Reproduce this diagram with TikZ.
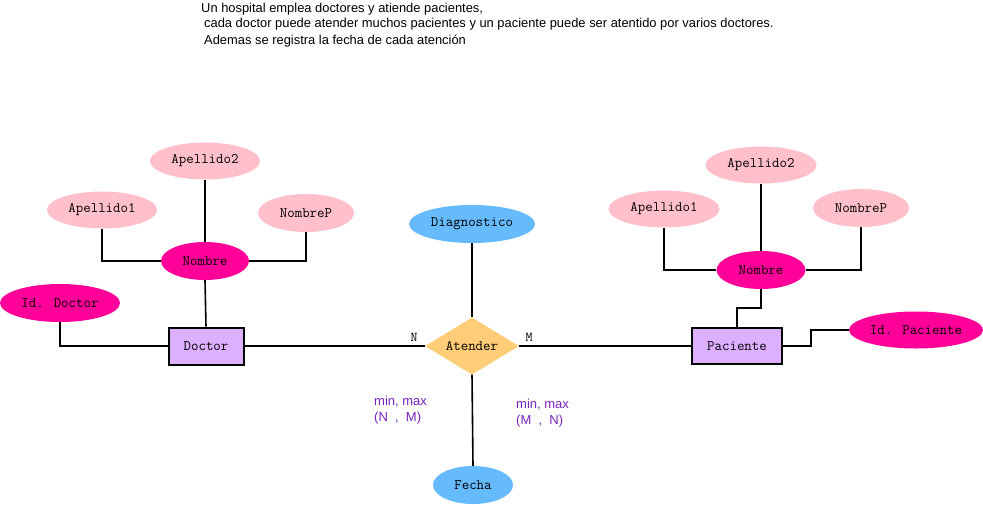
\documentclass[tikz,border=0pt]{standalone}
\usepackage{fontspec}
\setmainfont{Liberation Sans}
\usetikzlibrary{shapes.geometric}
\definecolor{lpink}{HTML}{FFC0CB}
\definecolor{dpink}{HTML}{FF0099}
\definecolor{lpurp}{HTML}{DDB0FF}
\definecolor{lblue}{HTML}{66BBFF}
\definecolor{dorange}{HTML}{FFCC77}
\definecolor{purtxt}{HTML}{7722BB}
\tikzset{
  attr/.style={ellipse, inner sep=0pt, font=\ttfamily\fontsize{14.5}{16}\selectfont},
  lattr/.style={attr, fill=lpink},
  dattr/.style={attr, fill=dpink},
  battr/.style={attr, fill=lblue},
  entbox/.style={rectangle, draw=black, line width=2pt, fill=lpurp, inner sep=0pt, font=\ttfamily\fontsize{14.5}{16}\selectfont},
  relshape/.style={diamond, aspect=2, inner sep=0pt, fill=dorange, minimum width=94pt, minimum height=57pt, font=\ttfamily\fontsize{14.5}{16}\selectfont},
  conn/.style={draw=black, line width=1.6pt},
  card/.style={font=\ttfamily\fontsize{13.5}{15}\selectfont, inner sep=0pt},
  mm/.style={font=\fontsize{13}{16}\selectfont, text=purtxt, align=left, inner sep=0pt, anchor=north west},
  ttl/.style={font=\fontsize{12.9}{15}\selectfont, inner sep=0pt, anchor=west}
}
\begin{document}
\begin{tikzpicture}[x=1pt,y=-1pt]
\useasboundingbox (0,0) rectangle (983,504);
% title
\node[ttl] (t1) at (201,9) {Un hospital emplea doctores y atiende pacientes,};
\node[ttl] (t2) at (204,24) {cada doctor puede atender muchos pacientes y un paciente puede ser atentido por varios doctores.};
\node[ttl] (t3) at (204,41) {Ademas se registra la fecha de cada atención};
% doctor side
\node[lattr, minimum width=110pt, minimum height=37pt] (da2) at (205,161) {Apellido2};
\node[lattr, minimum width=110pt, minimum height=37pt] (da1) at (102,210) {Apellido1};
\node[lattr, minimum width=96pt, minimum height=38pt] (dnp) at (306,213) {NombreP};
\node[dattr, minimum width=88pt, minimum height=38pt] (dn) at (205,261) {Nombre};
\node[dattr, minimum width=120pt, minimum height=38pt] (did) at (60,303) {Id. Doctor};
\node[entbox, minimum width=75pt, minimum height=37pt] (doc) at (206,346) {Doctor};
% relationship
\node[relshape] (at) at (472,346) {Atender};
\node[battr, minimum width=126pt, minimum height=38pt] (dg) at (472,224) {Diagnostico};
\node[battr, minimum width=80pt, minimum height=38pt] (fe) at (473,485) {Fecha};
% patient side
\node[lattr, minimum width=111pt, minimum height=37pt] (pa2) at (761,165) {Apellido2};
\node[lattr, minimum width=111pt, minimum height=37pt] (pa1) at (664,209) {Apellido1};
\node[lattr, minimum width=96pt, minimum height=38pt] (pnp) at (861,208) {NombreP};
\node[dattr, minimum width=89pt, minimum height=38pt] (pn) at (761,270) {Nombre};
\node[dattr, minimum width=134pt, minimum height=37pt] (pid) at (916,330) {Id. Paciente};
\node[entbox, minimum width=90pt, minimum height=36pt] (pac) at (737,346) {Paciente};
% connectors doctor
\draw[conn] (da1.south) |- (dn.west);
\draw[conn] (da2.south) -- (dn.north);
\draw[conn] (dnp.south) |- (dn.east);
\draw[conn] (dn.south) -- (doc.north);
\draw[conn] (did.south) |- (doc.west);
\draw[conn] (doc.east) -- (at.west);
% connectors relationship
\draw[conn] (dg.south) -- (at.north);
\draw[conn] (at.south) -- (fe.north);
\draw[conn] (at.east) -- (pac.west);
% connectors patient
\draw[conn] (pa1.south) |- (pn.west);
\draw[conn] (pa2.south) -- (pn.north);
\draw[conn] (pnp.south) |- (pn.east);
\draw[conn] (pn.south) -- ++(0,19) -| (pac.north);
\draw[conn] (pac.east) -- ++(28,0) |- (pid.west);
% labels
\node[card] (cn) at (414,337) {N};
\node[card] (cm) at (529,337) {M};
\node[mm] (mm1) at (374,396) {min, max\\(N~~,~~M)};
\node[mm] (mm2) at (516,399) {min, max\\(M~~,~~N)};
\end{tikzpicture}
\end{document}
